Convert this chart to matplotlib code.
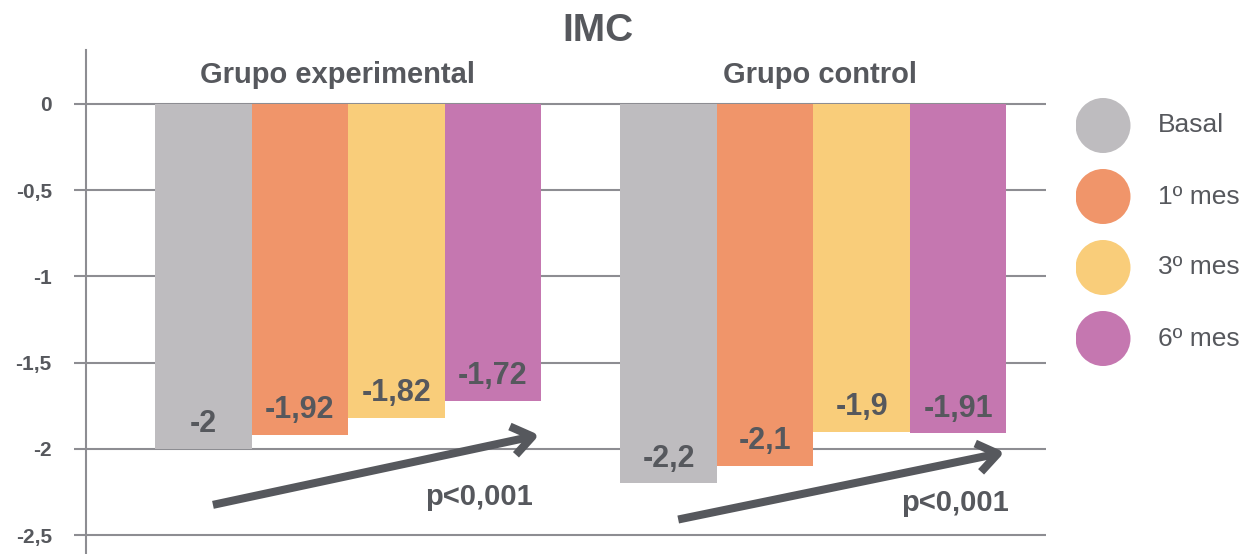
import numpy as np
import matplotlib
matplotlib.use("Agg")
import matplotlib.pyplot as plt

plt.rcParams['font.family'] = ['Liberation Sans', 'DejaVu Sans']

# data
groups = ["Grupo experimental", "Grupo control"]
periods = ["Basal", "1º mes", "3º mes", "6º mes"]
values_exp = [-2.0, -1.92, -1.82, -1.72]
values_ctrl = [-2.2, -2.1, -1.9, -1.91]
value_labels_exp = ["-2", "-1,92", "-1,82", "-1,72"]
value_labels_ctrl = ["-2,2", "-2,1", "-1,9", "-1,91"]
yticks = [0, -0.5, -1, -1.5, -2, -2.5]
ytick_labels = ["0", "-0,5", "-1", "-1,5", "-2", "-2,5"]
p_labels = ["p<0,001", "p<0,001"]

colors = ["#bebcbf", "#f0956a", "#f9cd7a", "#c577b0"]
text_col = "#56585d"
grid_col = "#8d8d92"

fig = plt.figure(figsize=(12.5, 5.54), dpi=100)
ax = fig.add_axes([86 / 1250, 0, 960 / 1250, 1 - 50 / 554])

group_gap = 4.82
bar_w = 1.0
all_vals = [values_exp, values_ctrl]
all_labels = [value_labels_exp, value_labels_ctrl]

for g in range(2):
    x = g * group_gap + np.arange(4) + 0.5
    ax.bar(x, all_vals[g], width=bar_w, color=colors, zorder=2)
    for xi, v, lab in zip(x, all_vals[g], all_labels[g]):
        ax.annotate(lab, (xi, v), xytext=(0, 12), textcoords="offset points",
                    ha="center", va="baseline", fontsize=22, fontweight="bold",
                    color=text_col, zorder=4)
    ax.text(g * group_gap + 2.0 + (-0.11 if g == 0 else 0.07), 0.17, groups[g],
            ha="center", va="center", fontsize=21, fontweight="bold", color=text_col)

# trend arrows
arrow_y = [(-2.325, -1.92), (-2.41, -2.02)]
p_pos = [(3.36, -2.28), (3.47, -2.314)]
for g in range(2):
    off = g * group_gap
    ax.annotate("", xy=(off + 3.98, arrow_y[g][1]), xytext=(off + 0.6, arrow_y[g][0]),
                arrowprops=dict(arrowstyle="->,head_length=0.72,head_width=0.52",
                                mutation_scale=20, lw=5.8, color=text_col,
                                shrinkA=0, shrinkB=0, capstyle="butt"),
                zorder=5)
    ax.text(off + p_pos[g][0], p_pos[g][1], p_labels[g], ha="center", va="center",
            fontsize=21, fontweight="bold", color=text_col)

ax.set_xlim(-0.715, 9.23)
ax.set_ylim(-2.61, 0.313)
ax.set_yticks(yticks)
ax.set_yticklabels(ytick_labels)
ax.set_xticks([])
ax.yaxis.grid(True, color=grid_col, linewidth=1.5)
ax.set_axisbelow(True)
for s in ["top", "right", "bottom"]:
    ax.spines[s].set_visible(False)
ax.spines["left"].set_color(grid_col)
ax.spines["left"].set_linewidth(1.5)
ax.tick_params(axis="y", length=8.6, width=1.5, color=grid_col, pad=16,
               labelsize=15, labelcolor=text_col)
for t in ax.get_yticklabels():
    t.set_fontweight("bold")

fig.text(598 / 1250, 1 - 31 / 554, "IMC", ha="center", va="center",
         fontsize=28, fontweight="bold", color=text_col)

# legend drawn as its own small axes
lax = fig.add_axes([1076 / 1250, 1 - 374 / 554, 174 / 1250, 284 / 554])
lax.set_xlim(0, 174)
lax.set_ylim(3.5, -0.5)
lax.axis("off")
idx = np.arange(len(periods))
lax.scatter(np.full(len(periods), 27), idx, s=39.6 ** 2, c=colors, edgecolors="none")
for i, lab in zip(idx, periods):
    lax.text(82, i, lab, ha="left", va="center", fontsize=19, color=text_col)

fig.savefig("out.png", dpi=100)
